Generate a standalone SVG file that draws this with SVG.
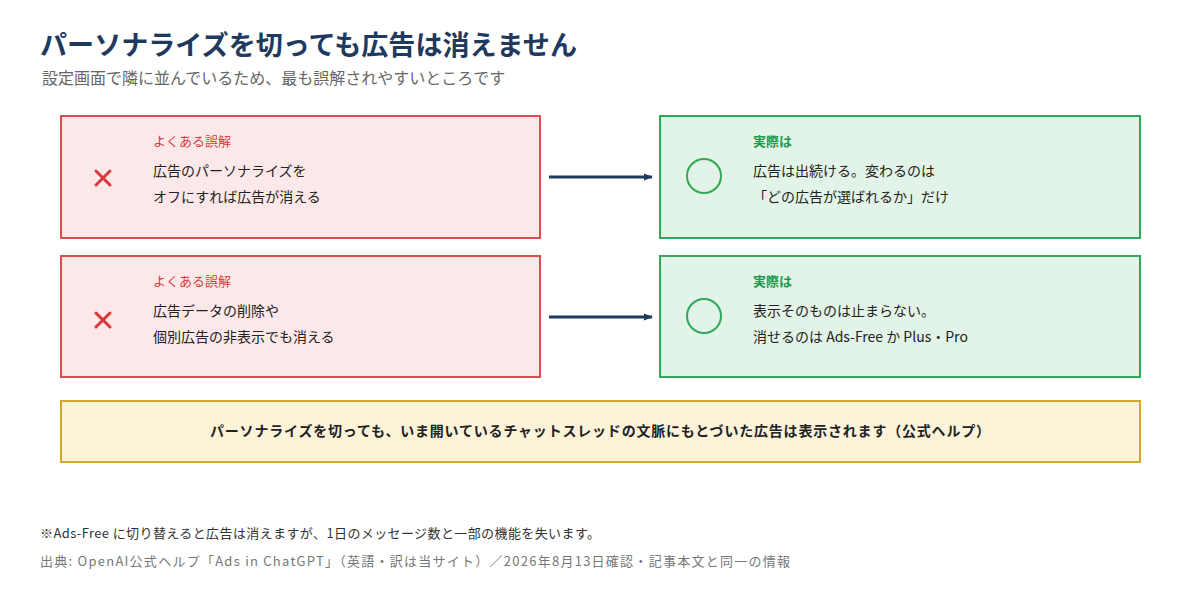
<svg xmlns="http://www.w3.org/2000/svg" width="1200" height="590" viewBox="0 0 1200 590">
<style>
text{font-family:"Noto Sans CJK JP","Noto Sans",sans-serif}
.bad{fill:#fce8e8;stroke:#dc4c4c;stroke-width:2}
.good{fill:#e2f3e8;stroke:#2ea95a;stroke-width:2}
.lbr{fill:#d9393c;font-size:13px}
.lbg{fill:#1f9a4c;font-size:13px;font-weight:bold}
.body{fill:#222;font-size:14px}
.x{stroke:#d9393c;stroke-width:3;stroke-linecap:round}
.c{fill:none;stroke:#2ea95a;stroke-width:2}
.arr{stroke:#1f3a5f;stroke-width:3}
</style>
<defs><marker id="ah" viewBox="0 0 10 10" refX="9" refY="5" markerWidth="3" markerHeight="3" orient="auto"><path d="M0,1 L10,5 L0,9z" fill="#1f3a5f"/></marker></defs>
<rect width="1200" height="590" fill="#fff"/>
<text x="40" y="55" font-size="27" font-weight="bold" fill="#1f3a5f" textLength="537" lengthAdjust="spacingAndGlyphs">パーソナライズを切っても広告は消えません</text>
<text x="42" y="84" font-size="16" fill="#666">設定画面で隣に並んでいるため、最も誤解されやすいところです</text>
<g id="m1"><rect class="bad" x="61" y="116" width="479" height="122"/><path class="x" d="M96,171l14,14M110,171l-14,14"/><text class="lbr" x="153" y="146">よくある誤解</text><text class="body" x="153" y="176">広告のパーソナライズを</text><text class="body" x="153" y="202">オフにすれば広告が消える</text></g>
<g id="r1"><rect class="good" x="660" y="116" width="480" height="122"/><circle class="c" cx="704" cy="176" r="17"/><text class="lbg" x="753" y="146">実際は</text><text class="body" x="753" y="176">広告は出続ける。変わるのは</text><text class="body" x="753" y="202">「どの広告が選ばれるか」だけ</text></g>
<g id="m2"><rect class="bad" x="61" y="256" width="479" height="121"/><path class="x" d="M96,313l14,14M110,313l-14,14"/><text class="lbr" x="153" y="286">よくある誤解</text><text class="body" x="153" y="316">広告データの削除や</text><text class="body" x="153" y="342">個別広告の非表示でも消える</text></g>
<g id="r2"><rect class="good" x="660" y="256" width="480" height="121"/><circle class="c" cx="704" cy="316" r="17"/><text class="lbg" x="753" y="286">実際は</text><text class="body" x="753" y="316">表示そのものは止まらない。</text><text class="body" x="753" y="342">消せるのは Ads-Free か Plus・Pro</text></g>
<g id="connectors"><line class="arr" x1="549" y1="177" x2="652" y2="177" marker-end="url(#ah)"/><line class="arr" x1="549" y1="317" x2="652" y2="317" marker-end="url(#ah)"/></g>
<g id="note"><rect x="61" y="401" width="1079" height="61" fill="#fdf3d9" stroke="#d4a62a" stroke-width="2"/><text x="600" y="436" text-anchor="middle" font-size="14" font-weight="bold" fill="#222" textLength="780">パーソナライズを切っても、いま開いているチャットスレッドの文脈にもとづいた広告は表示されます（公式ヘルプ）</text></g>
<text x="40" y="538" font-size="13" fill="#333" textLength="560">※Ads-Free に切り替えると広告は消えますが、1日のメッセージ数と一部の機能を失います。</text>
<text x="40" y="566" font-size="13" fill="#777" textLength="750">出典: OpenAI公式ヘルプ「Ads in ChatGPT」（英語・訳は当サイト）／2026年8月13日確認・記事本文と同一の情報</text>
</svg>
